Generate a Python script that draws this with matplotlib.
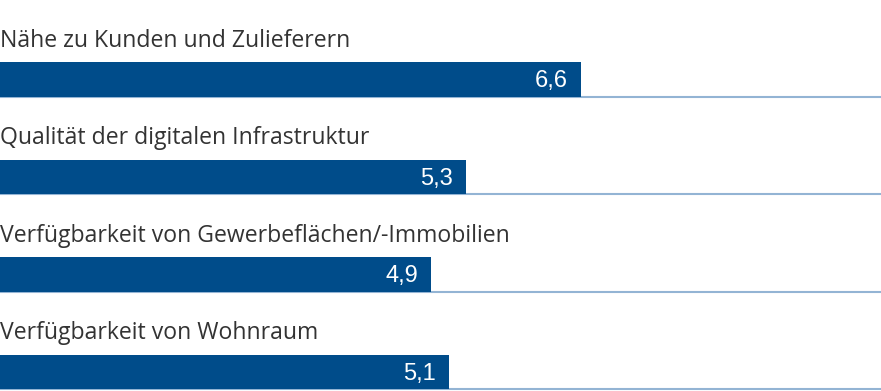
import matplotlib
matplotlib.use("Agg")
import matplotlib.pyplot as plt

categories = [
    "Nähe zu Kunden und Zulieferern",
    "Qualität der digitalen Infrastruktur",
    "Verfügbarkeit von Gewerbeflächen/-Immobilien",
    "Verfügbarkeit von Wohnraum",
]
values = [6.6, 5.3, 4.9, 5.1]
value_labels = ["6,6", "5,3", "4,9", "5,1"]

BAR = "#004c8a"
LINE = "#93b4d4"
TEXT = "#333333"

W, H = 881, 391
fig = plt.figure(figsize=(W / 100, H / 100), dpi=100)
ax = fig.add_axes([0, 0, 1, 1])
ax.set_xlim(0, W / 88.0)
ax.set_ylim(3.195, -0.815)
ax.axis("off")

bh = 0.35
pos = list(range(len(categories)))
ax.barh(pos, values, height=bh, color=BAR, align="center", zorder=2)
for i, (v, lab, cat) in enumerate(zip(values, value_labels, categories)):
    ax.axhline(i + bh / 2, color=LINE, lw=1.5, zorder=1)
    ax.text(v - 0.15, i + 0.02, lab, ha="right", va="center", color="white",
            fontsize=17, family=["Liberation Sans", "DejaVu Sans"], zorder=3)
    ax.text(0.0, i - bh / 2 - 0.16, cat, ha="left", va="baseline", color=TEXT,
            fontsize=16.6, family=["Open Sans", "DejaVu Sans"])

fig.savefig("out.png", dpi=100)
